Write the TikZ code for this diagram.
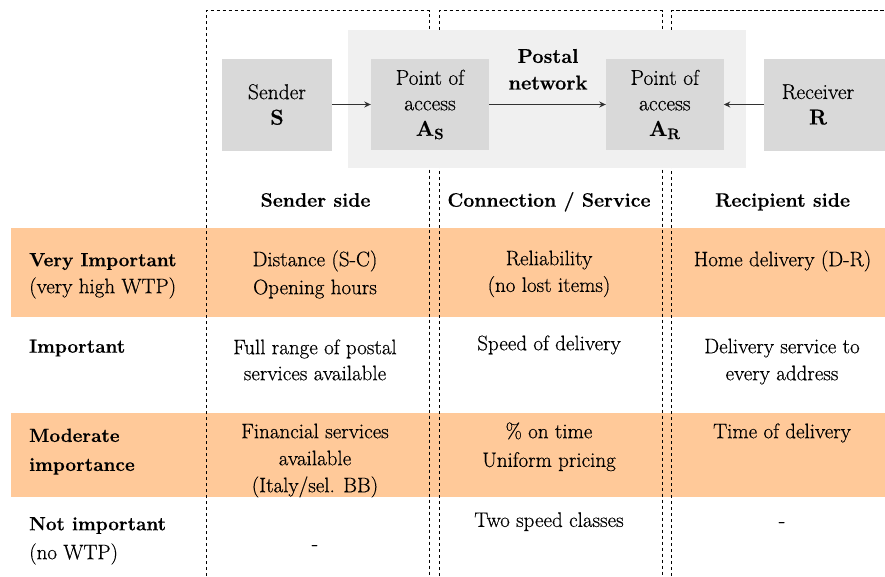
\documentclass[tikz,border=0pt]{standalone}
\usepackage{fontspec}
\setmainfont{Latin Modern Roman}[FakeBold=0.5]
\usetikzlibrary{arrows.meta}
\definecolor{bandorange}{RGB}{255,201,153}
\definecolor{netgray}{RGB}{240,240,240}
\definecolor{boxgray}{RGB}{217,217,217}
\definecolor{arrowgray}{RGB}{50,50,50}
% strut that fixes the height of a node's first line
\newcommand\topstrut{\rule{0pt}{19pt}}
\newcommand\lbf{\fontsize{19}{27}\selectfont\bfseries}

\begin{document}
\begin{tikzpicture}[x=1pt,y=-1pt,
  band/.style={fill=bandorange, draw=none},
  divider/.style={draw=black, line width=0.8pt, dash pattern=on 3.5pt off 2.5pt},
  stage/.style={fill=boxgray, inner sep=0pt, align=center, font=\fontsize{21.5}{25.5}\selectfont},
  flow/.style={draw=arrowgray, line width=1.2pt, -{Stealth[length=6.5pt,width=6pt]}},
  colhead/.style={font=\fontsize{19.5}{27}\selectfont\bfseries, inner sep=0pt, anchor=base},
  cell/.style={font=\fontsize{21}{27}\selectfont, inner sep=0pt, align=center, anchor=north},
  rowlabel/.style={font=\fontsize{21}{28.5}\selectfont, inner sep=0pt, align=left, anchor=north west},
]
\useasboundingbox (0,0) rectangle (885,576);

% importance bands
\fill[band] (11,228.3) rectangle (885,316.7);
\fill[band] (11,413.3) rectangle (885,497.3);

% column frames, open at the bottom
\draw[divider] (206,576) -- (206,10.5) -- (429.3,10.5) -- (429.3,576);
\draw[divider] (439,576) -- (439,10.5) -- (662.3,10.5) -- (662.3,576);
\draw[divider] (671.7,576) -- (671.7,10.5) -- (885,10.5);

% postal network area
\node[fill=netgray, inner sep=0pt, minimum width=398pt, minimum height=138pt] (net) at (547,99) {};
\node[cell, font=\fontsize{20}{26.6}\selectfont\bfseries] (nettitle) at (548,43.7) {\topstrut Postal\\network};

% stages of the flow
\node[stage, minimum width=110pt, minimum height=92pt] (sender) at (277,104.5) {Sender\\\textbf{S}};
\node[stage, minimum width=118pt, minimum height=91pt] (as) at (430,104.5) {Point of\\access\\\textbf{A}\textsubscript{\textbf{S}}};
\node[stage, minimum width=117.6pt, minimum height=91pt] (ar) at (664.8,104.5) {Point of\\access\\\textbf{A}\textsubscript{\textbf{R}}};
\fill[boxgray] (764,58.5) rectangle (885,150.5);
\node[stage, fill=none, minimum width=108pt, minimum height=92pt] (receiver) at (818,104.5) {Receiver\\\textbf{R}};

\draw[flow] (sender) -- (as);
\draw[flow] (as) -- (ar);
\draw[flow] (receiver) -- (ar);

% column headings
\node[colhead] (hsend) at (315.5,206.7) {Sender side};
\node[colhead] (hconn) at (549,206.7) {Connection / Service};
\node[colhead] (hrecv) at (782.5,206.7) {Recipient side};

% row: very important
\node[rowlabel, font=\fontsize{21}{27}\selectfont] (lvery) at (29,247) {\topstrut{\lbf Very Important}\\(very high WTP)};
\node[cell, font=\fontsize{21}{28}\selectfont] (s1) at (315,247) {\topstrut Distance (S-C)\\Opening hours};
\node[cell, font=\fontsize{21}{26.7}\selectfont] (c1) at (549,246) {\topstrut Reliability\\(no lost items)};
\node[cell] (r1) at (782.5,247) {\topstrut Home delivery (D-R)};

% row: important
\node[rowlabel, anchor=base west] (limp) at (29,352.7) {\lbf Important};
\node[cell, font=\fontsize{21}{26}\selectfont] (s2) at (315,335) {\topstrut Full range of postal\\services available};
\node[cell] (c2) at (549,331) {\topstrut Speed of delivery};
\node[cell] (r2) at (782,334) {\topstrut Delivery service to\\every address};

% row: moderate importance
\node[rowlabel, font=\fontsize{19}{29}\selectfont\bfseries] (lmod) at (29,422.7) {\topstrut Moderate\\importance};
\node[cell] (s3) at (315,419) {\topstrut Financial services\\available\\(Italy/sel. BB)};
\node[cell, font=\fontsize{21}{28.7}\selectfont] (c3) at (549,419) {\topstrut \% on time\\Uniform pricing};
\node[cell] (r3) at (782,419) {\topstrut Time of delivery};

% row: not important
\node[rowlabel, font=\fontsize{21}{29}\selectfont] (lnot) at (29,511) {\topstrut{\lbf Not important}\\(no WTP)};
\node[cell] (s4) at (315,531) {\topstrut -};
\node[cell] (c4) at (549,507.7) {\topstrut Two speed classes};
\node[cell] (r4) at (782,508) {\topstrut -};
\end{tikzpicture}
\end{document}
